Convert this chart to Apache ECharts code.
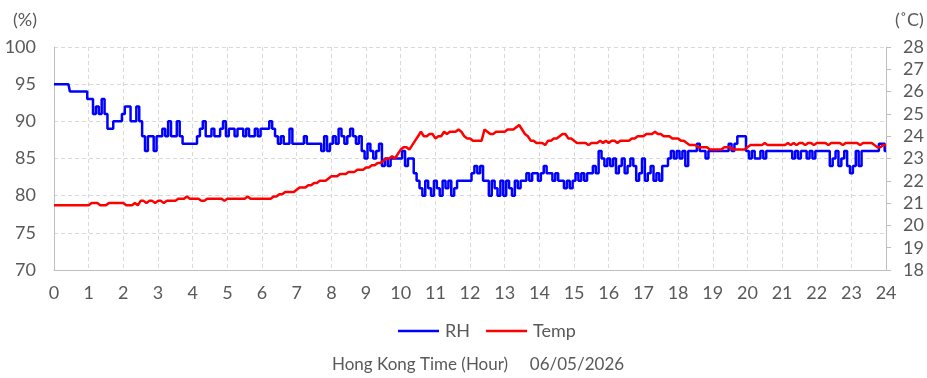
<!DOCTYPE html>
<html>
<head>
<meta charset="utf-8">
<script src="https://cdn.jsdelivr.net/npm/echarts@6/dist/echarts.min.js"></script>
<style>
  html, body { margin: 0; padding: 0; background: #ffffff; }
  #chart { width: 927px; height: 378px; }
</style>
</head>
<body>
<div id="chart"></div>
<script>
// Readings every 5 minutes, 00:00 to 24:00
const stepMinutes = 5;

// Relative humidity (%), one row per hour
const rh = [
  95,95,95,95,95,95,94,94,94,94,94,94,   // 00
  93,93,91,92,91,93,91,89,89,90,90,90,   // 01
  91,92,92,90,90,92,90,88,86,88,88,86,   // 02
  88,88,89,88,90,88,88,90,88,87,87,87,   // 03
  87,87,88,89,90,88,88,89,88,88,89,90,   // 04
  88,89,89,88,89,89,88,89,88,88,89,88,   // 05
  89,89,89,90,89,88,87,88,87,87,89,87,   // 06
  87,87,87,88,87,87,87,87,87,86,88,86,   // 07
  87,88,87,89,88,87,88,89,88,87,88,86,   // 08
  85,87,86,85,86,87,84,85,84,85,85,85,   // 09
  85,86,84,85,85,83,82,81,80,82,81,80,   // 10
  82,81,80,82,81,82,80,81,82,82,82,82,   // 11
  82,83,84,83,84,82,82,80,82,81,80,82,   // 12
  80,82,81,80,82,81,82,82,83,82,83,83,   // 13
  82,83,84,83,83,82,83,82,82,81,82,81,   // 14
  82,83,82,83,82,83,83,84,83,86,85,84,   // 15
  85,84,85,83,84,85,83,84,85,84,82,83,   // 16
  85,82,83,84,82,83,82,84,84,85,86,85,   // 17
  86,85,86,84,86,86,86,87,86,86,85,86,   // 18
  86,86,86,86,86,86,87,86,87,88,88,88,   // 19
  86,85,86,85,85,86,85,86,86,86,86,86,   // 20
  86,86,86,86,85,86,85,86,86,85,86,85,   // 21
  86,86,86,86,86,84,85,86,84,85,86,84,   // 22
  83,84,86,84,86,86,86,86,86,86,87,87,   // 23
  86                                     // 24
];

// Air temperature (°C), one row per hour
const temp = [
  20.9,20.9,20.9,20.9,20.9,20.9,20.9,20.9,20.9,20.9,20.9,20.9,   // 00
  20.9,21.0,21.0,21.0,20.9,20.9,20.9,21.0,21.0,21.0,21.0,21.0,   // 01
  21.0,20.9,20.9,20.9,21.0,20.9,21.1,21.1,21.0,21.1,21.1,21.0,   // 02
  21.1,21.1,21.0,21.1,21.1,21.1,21.1,21.2,21.2,21.2,21.3,21.2,   // 03
  21.2,21.2,21.2,21.1,21.1,21.2,21.2,21.2,21.2,21.2,21.2,21.1,   // 04
  21.2,21.2,21.2,21.2,21.2,21.2,21.2,21.3,21.2,21.2,21.2,21.2,   // 05
  21.2,21.2,21.2,21.2,21.3,21.3,21.4,21.4,21.5,21.5,21.5,21.5,   // 06
  21.6,21.7,21.7,21.7,21.8,21.8,21.9,21.9,22.0,22.0,22.0,22.1,   // 07
  22.2,22.2,22.2,22.3,22.3,22.3,22.4,22.4,22.4,22.5,22.5,22.5,   // 08
  22.6,22.6,22.7,22.7,22.8,22.8,22.9,23.0,23.0,23.1,23.0,23.2,   // 09
  23.4,23.5,23.5,23.4,23.6,23.8,24.0,24.2,24.0,24.0,24.1,24.1,   // 10
  23.9,24.0,24.0,24.2,24.1,24.2,24.2,24.2,24.3,24.2,24.0,23.9,   // 11
  23.9,23.8,23.8,23.8,23.8,24.3,24.2,24.1,24.1,24.2,24.2,24.2,   // 12
  24.2,24.3,24.3,24.3,24.4,24.5,24.3,24.1,24.0,23.8,23.8,23.7,   // 13
  23.7,23.7,23.6,23.8,23.8,23.9,23.9,24.0,24.1,24.1,23.9,23.9,   // 14
  23.8,23.7,23.7,23.7,23.7,23.6,23.7,23.7,23.7,23.8,23.7,23.8,   // 15
  23.7,23.8,23.8,23.7,23.8,23.8,23.8,23.8,23.9,23.9,24.0,24.0,   // 16
  24.0,24.1,24.1,24.1,24.2,24.1,24.1,24.0,24.0,24.0,23.9,23.9,   // 17
  23.9,23.8,23.8,23.7,23.6,23.6,23.6,23.5,23.5,23.5,23.5,23.4,   // 18
  23.4,23.4,23.4,23.4,23.5,23.5,23.5,23.4,23.4,23.4,23.4,23.4,   // 19
  23.5,23.6,23.6,23.6,23.6,23.6,23.7,23.6,23.6,23.6,23.6,23.6,   // 20
  23.6,23.6,23.7,23.6,23.7,23.6,23.7,23.7,23.6,23.7,23.7,23.6,   // 21
  23.7,23.7,23.7,23.7,23.6,23.7,23.7,23.7,23.7,23.6,23.7,23.7,   // 22
  23.7,23.7,23.7,23.6,23.7,23.7,23.7,23.7,23.6,23.5,23.5,23.6,   // 23
  23.6                                                           // 24
];

const seriesNames = ['RH', 'Temp'];
const footerText = 'Hong Kong Time (Hour)     06/05/2026';

const toPoints = arr => arr.map((v, i) => [i * stepMinutes / 60, v]);

const FONT = 'Lato';
const TEXT = '#595959';
const AXIS = '#bfbfbf';
const GRIDLINE = { show: true, lineStyle: { color: '#d9d9d9', width: 1, type: [4, 3] } };

const chart = echarts.init(document.getElementById('chart'), null, { renderer: 'canvas' });
chart.setOption({
  animation: false,
  backgroundColor: '#ffffff',
  textStyle: { fontFamily: FONT },
  grid: { left: 54, right: 40, top: 47, bottom: 108 },
  xAxis: {
    type: 'value', min: 0, max: 24, interval: 1,
    axisLine: { show: true, lineStyle: { color: AXIS, width: 1 } },
    axisTick: { show: false },
    axisLabel: { color: TEXT, fontSize: 18, fontFamily: FONT, margin: 14 },
    splitLine: GRIDLINE
  },
  yAxis: [
    {
      type: 'value', min: 70, max: 100, interval: 5, position: 'left',
      axisLine: { show: true, lineStyle: { color: AXIS, width: 1 } },
      axisTick: { show: false },
      axisLabel: { color: TEXT, fontSize: 18, fontFamily: FONT, margin: 18 },
      splitLine: GRIDLINE
    },
    {
      type: 'value', min: 18, max: 28, interval: 1, position: 'right',
      axisLine: { show: true, lineStyle: { color: AXIS, width: 1 } },
      axisTick: { show: true, inside: false, length: 5, lineStyle: { color: AXIS } },
      axisLabel: { color: TEXT, fontSize: 18, fontFamily: FONT, margin: 17 },
      splitLine: { show: false }
    }
  ],
  legend: {
    data: seriesNames,
    icon: 'rect',
    left: 393, top: 317,
    itemWidth: 41, itemHeight: 2.5, itemGap: 16,
    textStyle: { color: TEXT, fontSize: 18, fontFamily: FONT, padding: [0, 0, 0, 1] }
  },
  graphic: [
    { type: 'text', left: 13, top: 11, style: { text: '(%)', fill: TEXT, font: '18px Lato' } },
    { type: 'text', left: 895, top: 11, style: { text: '(˚C)', fill: TEXT, font: '18px Lato' } },
    { type: 'text', left: 332, top: 356, style: { text: footerText, fill: TEXT, font: '17px Lato' } }
  ],
  series: [
    {
      name: seriesNames[0], type: 'line', yAxisIndex: 0,
      data: toPoints(rh), step: 'middle',
      symbol: 'none', color: '#0000ff',
      lineStyle: { color: '#0000ff', width: 2.5 }
    },
    {
      name: seriesNames[1], type: 'line', yAxisIndex: 1,
      data: toPoints(temp),
      symbol: 'none', color: '#ff0000',
      lineStyle: { color: '#ff0000', width: 2.5 }
    }
  ]
});
</script>
</body>
</html>
